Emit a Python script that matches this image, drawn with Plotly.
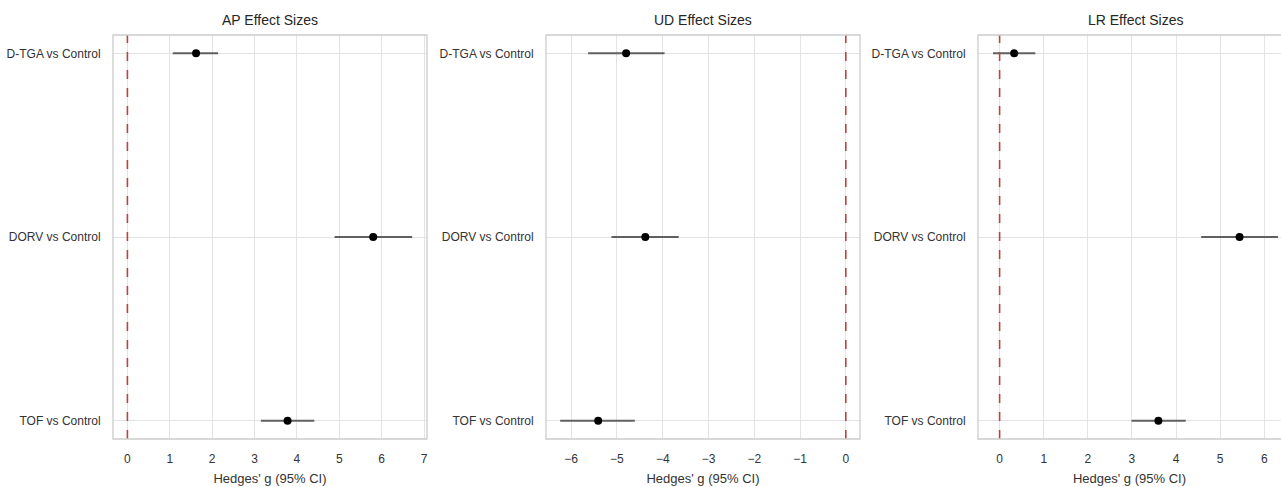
import plotly.graph_objects as go
from plotly.subplots import make_subplots

comparisons = ["D-TGA vs Control", "DORV vs Control", "TOF vs Control"]
panel_titles = ["AP Effect Sizes", "UD Effect Sizes", "LR Effect Sizes"]

ap_g = [1.62, 5.80, 3.78]
ap_lo = [1.07, 4.89, 3.15]
ap_hi = [2.14, 6.72, 4.41]

ud_g = [-4.80, -4.38, -5.41]
ud_lo = [-5.63, -5.12, -6.24]
ud_hi = [-3.96, -3.65, -4.61]

lr_g = [0.33, 5.44, 3.60]
lr_lo = [-0.15, 4.57, 2.99]
lr_hi = [0.81, 6.31, 4.22]

x_ranges = [[-0.34, 7.07], [-6.55, 0.31], [-0.49, 6.38]]
x_ticks = [list(range(0, 8)), list(range(-6, 1)), list(range(0, 7))]

W, H = 1281, 487
domains = [[113 / W, 427 / W], [546 / W, 860 / W], [978 / W, 1.0]]

fig = make_subplots(rows=1, cols=3)

panels = [(ap_g, ap_lo, ap_hi), (ud_g, ud_lo, ud_hi), (lr_g, lr_lo, lr_hi)]
ypos = list(range(len(comparisons)))

font_family = "Liberation Sans, Arial, sans-serif"

for i, (g, lo, hi) in enumerate(panels):
    col = i + 1
    fig.add_trace(
        go.Scatter(
            x=g,
            y=ypos,
            mode="markers",
            marker=dict(color="black", size=8),
            error_x=dict(
                type="data",
                symmetric=False,
                array=[h - v for h, v in zip(hi, g)],
                arrayminus=[v - l for v, l in zip(g, lo)],
                color="#606060",
                thickness=2,
                width=0,
            ),
            showlegend=False,
        ),
        row=1,
        col=col,
    )
    fig.add_vline(x=0, line=dict(color="#b94343", width=1.6, dash="dash"), row=1, col=col)
    xa = "xaxis" if i == 0 else f"xaxis{col}"
    ya = "yaxis" if i == 0 else f"yaxis{col}"
    fig.layout[xa].update(
        domain=domains[i],
        range=x_ranges[i],
        tickvals=x_ticks[i],
        ticktext=[str(t).replace("-", "\u2212") for t in x_ticks[i]],
        showgrid=True,
        gridcolor="#e3e3e3",
        gridwidth=1,
        zeroline=False,
        showline=False,
        ticks="outside",
        ticklen=9,
        tickcolor="rgba(0,0,0,0)",
        tickfont=dict(size=12, color="#333333", family=font_family),
        title=dict(text="Hedges' g (95% CI)", font=dict(size=13, color="#333333", family=font_family), standoff=8),
    )
    fig.layout[ya].update(
        range=[2.1, -0.1],
        tickvals=ypos,
        ticktext=comparisons,
        showgrid=True,
        gridcolor="#e3e3e3",
        gridwidth=1,
        zeroline=False,
        showline=False,
        ticks="outside",
        ticklen=9,
        tickcolor="rgba(0,0,0,0)",
        tickfont=dict(size=12, color="#333333", family=font_family),
    )
    x1 = 1.05 if i == 2 else 1
    fig.add_shape(
        type="rect",
        xref=f"x{'' if i == 0 else col} domain",
        yref=f"y{'' if i == 0 else col} domain",
        x0=0, x1=x1, y0=0, y1=1,
        line=dict(color="#cccccc", width=1.3),
        layer="above",
    )
    fig.add_annotation(
        text=panel_titles[i],
        xref="paper", yref="paper",
        x=domains[i][0] + 157 / W,
        xanchor="center",
        y=1, yanchor="bottom", yshift=5,
        showarrow=False,
        font=dict(size=14, color="#262626", family=font_family),
    )

fig.update_layout(
    width=W,
    height=H,
    margin=dict(l=0, r=0, t=35, b=48),
    plot_bgcolor="white",
    paper_bgcolor="white",
)

fig.write_html("out.html")
